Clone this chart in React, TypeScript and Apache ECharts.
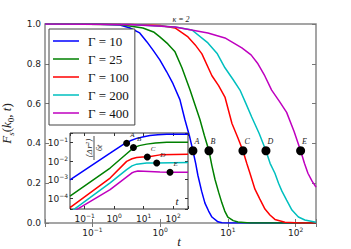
import { useEffect, useRef } from 'react';
import * as echarts from 'echarts';

const legendNames = ['Γ = 10', 'Γ = 25', 'Γ = 100', 'Γ = 200', 'Γ = 400'];
const insetNames = ['inset Γ = 10', 'inset Γ = 25', 'inset Γ = 100', 'inset Γ = 200', 'inset Γ = 400'];
const colors = ['#0000ff', '#008000', '#ff0000', '#00bfbf', '#bf00bf'];

// main panel: F_s(k0, t)
const blueT = [0.02, 0.13, 0.255, 0.36, 0.5, 0.64, 0.8, 0.99, 1.25, 1.55, 1.96, 2.32, 2.7, 3.05, 3.35, 3.61, 4.1, 4.59, 5.2, 5.82, 7.14, 8.18, 10.7, 200];
const blueF = [1.0, 0.999, 0.995, 0.98, 0.955, 0.91, 0.865, 0.82, 0.76, 0.70, 0.62, 0.52, 0.44, 0.363, 0.30, 0.24, 0.16, 0.10, 0.06, 0.03, 0.006, 0.001, 0, 0];
const greenT = [0.02, 0.255, 0.557, 0.8, 0.99, 1.3, 1.66, 2.1, 2.76, 3.3, 3.87, 4.5, 5.26, 5.8, 6.45, 7.3, 8.18, 9.0, 10.0, 12.0, 14.1, 21.2, 200];
const greenF = [1.0, 0.997, 0.98, 0.96, 0.935, 0.90, 0.86, 0.78, 0.67, 0.59, 0.52, 0.44, 0.363, 0.29, 0.22, 0.155, 0.10, 0.06, 0.03, 0.012, 0.005, 0, 0];
const redT = [0.02, 0.36, 1.0, 1.66, 2.58, 3.3, 4.14, 5.82, 7.3, 9.06, 11.5, 14.0, 16.7, 19.0, 21.2, 25.1, 29.7, 35.3, 41.8, 49.5, 69.5, 116, 200];
const redF = [1.0, 0.998, 0.992, 0.98, 0.935, 0.895, 0.85, 0.74, 0.69, 0.633, 0.50, 0.43, 0.363, 0.30, 0.25, 0.17, 0.12, 0.07, 0.04, 0.018, 0.004, 0, 0];
const cyanT = [0.02, 0.36, 1.66, 2.95, 5.08, 7.0, 9.06, 12.0, 15.1, 18.5, 22.4, 29.0, 36.5, 42.0, 49.5, 56.0, 62.8, 73.7, 88.3, 110, 137, 200];
const cyanF = [1.0, 0.997, 0.985, 0.97, 0.905, 0.85, 0.78, 0.72, 0.668, 0.60, 0.534, 0.45, 0.363, 0.30, 0.25, 0.20, 0.16, 0.115, 0.065, 0.03, 0.015, 0.004];
const magT = [0.02, 0.36, 1.66, 5.08, 9.06, 16.1, 22.0, 27.8, 35.0, 44.3, 58.0, 73.7, 95.0, 118.6, 135, 152, 175, 200];
const magF = [1.0, 0.997, 0.985, 0.955, 0.93, 0.88, 0.845, 0.80, 0.74, 0.668, 0.61, 0.556, 0.46, 0.363, 0.30, 0.25, 0.21, 0.18];

const dotT = [3.05, 5.26, 16.7, 36.5, 118.6];
const dotF = [0.363, 0.363, 0.363, 0.363, 0.363];
const dotLabels = ['A', 'B', 'C', 'D', 'E'];

// inset: <Δr²>/6t
const iBlueT = [0.0316, 0.724, 2.04, 3.5, 5.75, 10.0, 16.2, 30.0, 60.3, 316];
const iBlueV = [9.5e-4, 0.0257, 0.0776, 0.12, 0.162, 0.20, 0.229, 0.255, 0.269, 0.269];
const iGreenT = [0.0316, 0.724, 2.63, 4.47, 7.0, 12.6, 25.0, 60.3, 316];
const iGreenV = [1.26e-4, 4.07e-3, 0.024, 0.0501, 0.066, 0.0794, 0.092, 0.1, 0.1];
const iRedT = [0.0316, 0.724, 2.63, 4.0, 5.75, 9.0, 13.2, 35.5, 316];
const iRedV = [2.95e-5, 1.17e-3, 9.33e-3, 0.0129, 0.0151, 0.0158, 0.0162, 0.0209, 0.0229];
const iCyanT = [0.0316, 0.151, 0.724, 2.63, 4.0, 5.75, 12.6, 27.5, 316];
const iCyanV = [1.66e-5, 1.02e-4, 6.46e-4, 3.31e-3, 5.3e-3, 6.61e-3, 7.59e-3, 7.59e-3, 8.13e-3];
const iMagT = [0.0316, 0.0603, 0.724, 3.89, 5.0, 6.31, 10.0, 35.5, 77.6, 316];
const iMagV = [1.45e-5, 2.63e-5, 2.82e-4, 2.19e-3, 2.6e-3, 2.82e-3, 2.75e-3, 2.51e-3, 2.4e-3, 2.4e-3];

const iDotT = [2.63, 4.47, 13.2, 27.5, 77.6];
const iDotV = [0.089, 0.0525, 0.0162, 0.00759, 0.0024];

const mainYTicks = { min: 0, max: 1, interval: 0.2 };

export default function App() {
  const ref = useRef<HTMLDivElement>(null);
  useEffect(() => {
    const chart = echarts.init(ref.current!, undefined, { renderer: 'svg' });
    const zip = (a: number[], b: number[]) => a.map((v, i) => [v, b[i]]);
    const mainSets = [zip(blueT, blueF), zip(greenT, greenF), zip(redT, redF), zip(cyanT, cyanF), zip(magT, magF)];
    const insetSets = [zip(iBlueT, iBlueV), zip(iGreenT, iGreenV), zip(iRedT, iRedV), zip(iCyanT, iCyanV), zip(iMagT, iMagV)];
    const serif = 'Liberation Serif';
    const sans = 'DejaVu Sans';
    const txt = '#222';
    const logFmt = (v: number) => {
      const l = Math.log10(v);
      const e = Math.round(l);
      if (Math.abs(l - e) > 1e-6) return '';
      return `{b|10}{sup|${e < 0 ? '−' + -e : e}}`;
    };
    const rich = {
      b: { fontSize: 9, fontFamily: sans, color: txt, verticalAlign: 'bottom' },
      sup: { fontSize: 6, fontFamily: sans, color: txt, verticalAlign: 'bottom', padding: [0, 0, 5, 0] },
    };
    const tickStyle = (len: number, color: string) => ({ inside: true, length: len, lineStyle: { color, width: 1 } });
    const mainLog = { type: 'log', logBase: 10, min: 0.02, max: 200, splitLine: { show: false }, axisLine: { show: false } };
    const insetLogX = { type: 'log', logBase: 10, min: 0.031623, max: 316.23, splitLine: { show: false }, axisLine: { show: false } };
    const insetLogY = { type: 'log', logBase: 10, min: 2.512e-5, max: 0.31623, splitLine: { show: false }, axisLine: { show: false } };
    const lineIcon = 'path://M0,0M26,14M0,6.25L26,6.25L26,7.75L0,7.75Z';

    const option: any = {
      animation: false,
      backgroundColor: '#fff',
      grid: [
        { left: 45, top: 24, right: 35, bottom: 26, show: true, borderColor: '#888', borderWidth: 1.5, backgroundColor: 'transparent', outerBoundsMode: 'none', containLabel: false },
        { left: 70, top: 133, right: 163, bottom: 40, show: true, borderColor: '#333', borderWidth: 1, backgroundColor: '#fff', z: 10, outerBoundsMode: 'none', containLabel: false },
      ],
      xAxis: [
        {
          ...mainLog, gridIndex: 0, position: 'bottom',
          axisTick: tickStyle(4, '#777'),
          axisLabel: { formatter: logFmt, rich, margin: 3 },
        },
        { ...mainLog, gridIndex: 0, position: 'top', axisTick: tickStyle(4, '#777'), axisLabel: { show: false } },
        {
          ...insetLogX, gridIndex: 1, position: 'bottom', z: 11,
          axisTick: tickStyle(3, '#333'),
          axisLabel: { formatter: logFmt, rich, margin: 3 },
        },
        { ...insetLogX, gridIndex: 1, position: 'top', z: 11, axisTick: tickStyle(3, '#333'), axisLabel: { show: false } },
      ],
      yAxis: [
        {
          type: 'value', gridIndex: 0, position: 'left', ...mainYTicks,
          splitLine: { show: false }, axisLine: { show: false },
          axisTick: tickStyle(4, '#777'),
          axisLabel: { formatter: (v: number) => v.toFixed(1), fontFamily: sans, fontSize: 9, color: txt, margin: 4 },
          name: '{i|F}{s|s}{n|(}{i|k}{z|0}{n|, }{i|t}{n|)}', nameLocation: 'middle', nameGap: 24, nameRotate: 90,
          nameTextStyle: {
            rich: {
              i: { fontFamily: serif, fontStyle: 'italic', fontSize: 13, color: txt, verticalAlign: 'bottom', padding: [0, 0, 3, 0] },
              n: { fontFamily: serif, fontSize: 13, color: txt, verticalAlign: 'bottom', padding: [0, 0, 3, 0] },
              s: { fontFamily: serif, fontStyle: 'italic', fontSize: 9, color: txt, verticalAlign: 'bottom' },
              z: { fontFamily: serif, fontSize: 9, color: txt, verticalAlign: 'bottom' },
            },
          },
        },
        {
          type: 'value', gridIndex: 0, position: 'right', ...mainYTicks,
          splitLine: { show: false }, axisLine: { show: false },
          axisTick: tickStyle(4, '#777'), axisLabel: { show: false },
        },
        {
          ...insetLogY, gridIndex: 1, position: 'left', z: 11,
          axisTick: tickStyle(3, '#333'),
          axisLabel: { formatter: logFmt, rich, margin: 2 },
        },
        { ...insetLogY, gridIndex: 1, position: 'right', z: 11, axisTick: tickStyle(3, '#333'), axisLabel: { show: false } },
      ],
      legend: {
        data: legendNames.map((n) => ({ name: n, icon: lineIcon })), left: 49, top: 29, orient: 'vertical',
        padding: [5, 6, 5, 4], itemGap: 4, itemWidth: 26, itemHeight: 14,
        backgroundColor: '#fff', borderColor: '#444', borderWidth: 1, borderRadius: 0,
        textStyle: { fontFamily: serif, fontSize: 13, color: '#111', padding: [0, 0, 0, 4] },
      },
      series: [
        ...mainSets.map((d, i) => ({
          type: 'line', name: legendNames[i], xAxisIndex: 0, yAxisIndex: 0, data: d,
          showSymbol: false, symbol: 'none', smooth: false,
          lineStyle: { width: 1.5, color: colors[i] }, itemStyle: { color: colors[i] }, z: 2,
        })),
        {
          type: 'scatter', name: 'dots', xAxisIndex: 0, yAxisIndex: 0, data: zip(dotT, dotF),
          symbolSize: 9, itemStyle: { color: '#000', opacity: 1 }, z: 3,
          label: {
            show: true, position: [6, -9], formatter: (p: any) => dotLabels[p.dataIndex],
            fontFamily: serif, fontStyle: 'italic', fontSize: 8, color: txt,
          },
        },
        ...insetSets.map((d, i) => ({
          type: 'line', name: insetNames[i], xAxisIndex: 2, yAxisIndex: 2, data: d,
          showSymbol: false, symbol: 'none', smooth: false,
          lineStyle: { width: 1.5, color: colors[i] }, itemStyle: { color: colors[i] }, z: 12,
        })),
        {
          type: 'scatter', name: 'inset dots', xAxisIndex: 2, yAxisIndex: 2, data: zip(iDotT, iDotV),
          symbolSize: 7, itemStyle: { color: '#000', opacity: 1 }, z: 13,
          label: {
            show: true, position: [7, -8], formatter: (p: any) => dotLabels[p.dataIndex],
            fontFamily: serif, fontStyle: 'italic', fontSize: 7, color: txt,
          },
        },
      ],
      graphic: [
        {
          type: 'text', x: 181, y: 19, z: 20,
          style: { text: 'κ = 2', font: 'italic 8px "Liberation Serif"', fill: txt, align: 'center', verticalAlign: 'middle' },
        },
        {
          type: 'text', x: 179, y: 241, z: 20,
          style: { text: 't', font: 'italic 13px "Liberation Serif"', fill: txt, align: 'center', verticalAlign: 'middle' },
        },
        {
          type: 'text', x: 177, y: 201, z: 20,
          style: { text: 't', font: 'italic 11px "Liberation Serif"', fill: txt, align: 'center', verticalAlign: 'middle' },
        },
        {
          type: 'group', x: 94, y: 148, rotation: Math.PI / 2,
          children: [
            { type: 'text', x: 0, y: -5, z: 20, style: { text: '⟨Δr²⟩', font: 'italic 8px "DejaVu Serif"', fill: txt, align: 'center', verticalAlign: 'middle' } },
            { type: 'line', z: 20, shape: { x1: -12, y1: 0, x2: 12, y2: 0 }, style: { stroke: txt, lineWidth: 0.8 } },
            { type: 'text', x: 0, y: 5, z: 20, style: { text: '6t', font: 'italic 8px "Liberation Serif"', fill: txt, align: 'center', verticalAlign: 'middle' } },
          ],
        },
      ],
    };
    chart.setOption(option);
    return () => chart.dispose();
  }, []);
  return <div ref={ref} style={{ position: 'fixed', left: 0, top: 0, width: 351, height: 249 }} />;
}
